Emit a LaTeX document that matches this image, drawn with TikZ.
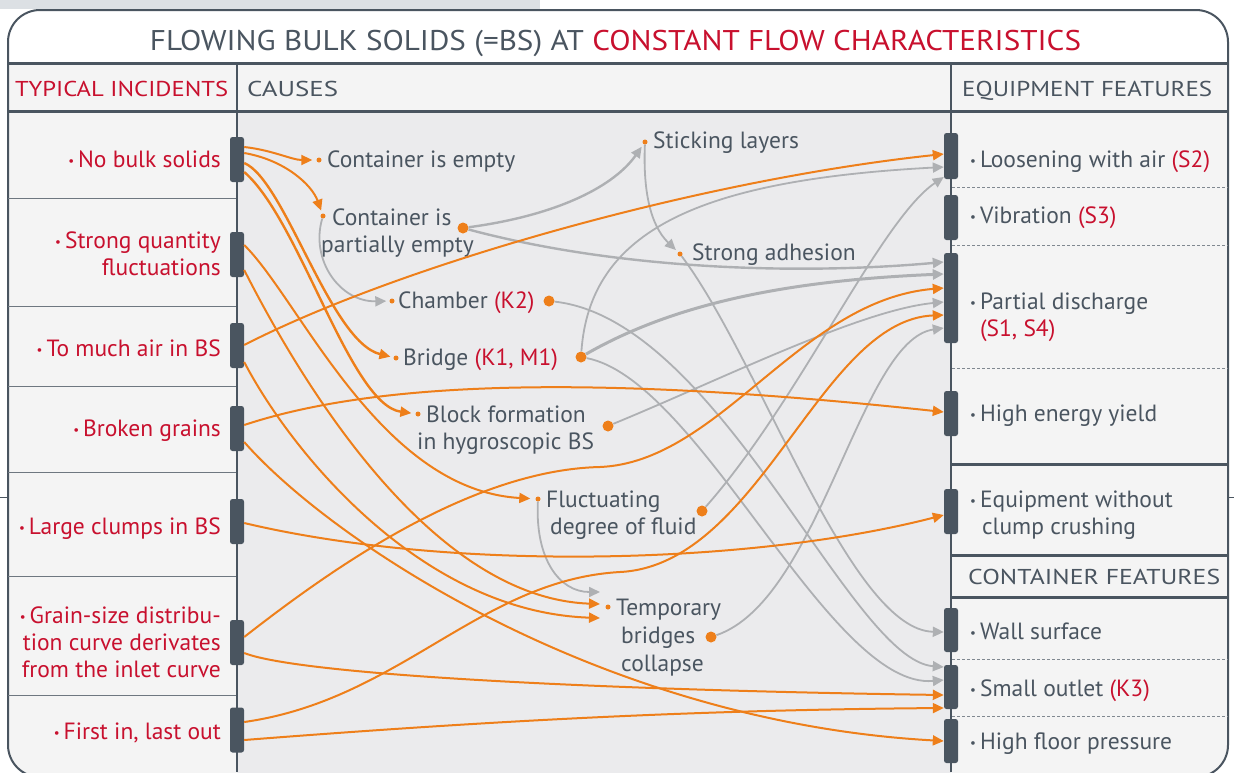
\documentclass[tikz,border=0pt]{standalone}
\usepackage{fontspec}
\setmainfont{PT Sans}
\usetikzlibrary{arrows.meta,calc}
\definecolor{dk}{HTML}{4A5560}
\definecolor{rd}{HTML}{C8102E}
\definecolor{og}{HTML}{EE7F1A}
\definecolor{gy}{HTML}{AEB0B3}
\definecolor{midbg}{HTML}{EBEBED}
\definecolor{sidebg}{HTML}{F4F4F4}
\definecolor{band}{HTML}{DCE0E4}
\newcommand\bfs{\fontsize{23.5}{27}\selectfont}
\newcommand\hfs{\fontsize{21.5}{24}\selectfont}
\newcommand\bl{\raisebox{2pt}{\fontsize{13}{13}\selectfont •}\hspace{4pt}}
\newcommand\rdt[1]{\textcolor{rd}{#1}}
\begin{document}
\begin{tikzpicture}[x=1pt,y=-1pt,
  barbox/.style={rectangle, rounded corners=2.5pt, fill=dk, minimum width=14pt, inner sep=0pt},
  sdot/.style={circle, fill=og, minimum size=5pt, inner sep=0pt},
  bdot/.style={circle, fill=og, minimum size=11pt, inner sep=0pt},
  lt/.style={anchor=east, align=right, text=rd, font=\bfs, inner sep=0pt},
  rt/.style={anchor=west, align=left, text=dk, font=\bfs, inner sep=0pt},
  ct/.style={anchor=west, align=left, text=dk, font=\bfs, inner sep=0pt},
  oneline/.style={text height=17pt, text depth=5pt, yshift=-2.25pt},
  desc/.style={yshift=-3pt},
  hd/.style={inner sep=0pt, anchor=base west},
  oarr/.style={draw=og, line width=2pt, -{Triangle[length=11pt,width=10pt]}},
  garr/.style={draw=gy, line width=1.8pt, -{Triangle[length=11pt,width=10pt]}},
  thick line/.style={draw=dk, line width=3pt},
  sepl/.style={draw=dk!80, line width=0.8pt},
  sepr/.style={draw=dk!70, line width=0.8pt, dash pattern=on 3pt off 2pt}
]
\useasboundingbox (0,0) rectangle (1234,772);
\fill[band] (0,0) rectangle (540,9);
\draw[dk, line width=1pt] (0,497) -- (8,497);
\draw[dk, line width=1pt] (1228,497) -- (1234,497);
% frame and backgrounds
\fill[white] (8,10) [rounded corners=32pt] -- (8,777) -- (1228,777) -- (1228,10) -- cycle;
\begin{scope}
\clip (8,10) [rounded corners=32pt] -- (8,777) -- (1228,777) -- (1228,10) -- cycle;
\fill[sidebg] (0,63) rectangle (1234,111);
\fill[sidebg] (0,111) rectangle (237,790);
\fill[midbg] (237,111) rectangle (951,790);
\fill[sidebg] (951,111) rectangle (1234,790);
\end{scope}
\draw[dk, line width=2pt, rounded corners=32pt] (8,10) -- (8,777) -- (1228,777) -- (1228,10) -- cycle;
% grid lines
\draw[thick line] (8,63) -- (1228,63);
\draw[thick line] (8,111) -- (1228,111);
\draw[dk, line width=2.5pt] (237,63) -- (237,772);
\draw[dk, line width=2.5pt] (951,63) -- (951,772);
\draw[thick line] (951,464) -- (1228,464);
\draw[thick line] (951,555) -- (1228,555);
\draw[thick line] (951,597) -- (1228,597);
\foreach \yy in {198,306,386,472,576,695} \draw[sepl] (8,\yy) -- (236,\yy);
\foreach \yy in {187,245,368,659,716} \draw[sepr] (952,\yy) -- (1228,\yy);
% title and headers
\node[inner sep=0pt, text=dk, anchor=base] (title) at (615.5,50) {\resizebox{931pt}{\height}{\fontsize{28.5}{30}\selectfont FLOWING BULK SOLIDS (=BS) AT \textcolor{rd}{CONSTANT FLOW CHARACTERISTICS}}};
\node[hd, text=rd] (h1) at (15,96.5) {\resizebox{213pt}{\height}{\hfs TYPICAL INCIDENTS}};
\node[hd, text=dk] (h2) at (247,96.5) {\resizebox{91pt}{\height}{\hfs CAUSES}};
\node[hd, text=dk] (h3) at (962,96.5) {\resizebox{250pt}{\height}{\hfs EQUIPMENT FEATURES}};
\node[hd, text=dk] (h4) at (968,584.5) {\resizebox{252pt}{\height}{\hfs CONTAINER FEATURES}};
% left bars
\node[barbox, minimum height=45pt] (nbs) at (237,159.5) {};
\node[barbox, minimum height=45pt] (sqf) at (237,254.5) {};
\node[barbox, minimum height=45pt] (tma) at (237,345.5) {};
\node[barbox, minimum height=45pt] (bg) at (237,428.5) {};
\node[barbox, minimum height=45pt] (lc) at (237,521.5) {};
\node[barbox, minimum height=45pt] (gs) at (237,642.5) {};
\node[barbox, minimum height=45pt] (fi) at (237,730) {};
% right bars
\node[barbox, minimum height=46pt] (lwa) at (951,156) {};
\node[barbox, minimum height=45pt] (vib) at (951,217.5) {};
\node[barbox, minimum height=90pt] (pd) at (951,298) {};
\node[barbox, minimum height=45pt] (hey) at (951,413.5) {};
\node[barbox, minimum height=45pt] (ewc) at (951,511.5) {};
\node[barbox, minimum height=44pt] (ws) at (951,630) {};
\node[barbox, minimum height=44pt] (so) at (951,687) {};
\node[barbox, minimum height=44pt] (hfp) at (951,741) {};
% left texts
\node[lt, oneline] (t-nbs) at (221,159) {\bl No bulk solids};
\node[lt] (t-sqf) at (221,254) {\bl Strong quantity\\fluctuations};
\node[lt, oneline] (t-tma) at (221,348) {\bl To much air in BS};
\node[lt, oneline] (t-bg) at (221,428) {\bl Broken grains};
\node[lt, oneline] (t-lc) at (221,526) {\bl Large clumps in BS};
\node[lt] (t-gs) at (221,642) {\bl Grain-size distribu-\\tion curve derivates\\from the inlet curve};
\node[lt, oneline] (t-fi) at (221,731) {\bl First in, last out};
% right texts
\node[rt, oneline] (t-lwa) at (970,159) {\bl Loosening with air \rdt{(S2)}};
\node[rt, oneline] (t-vib) at (970,215) {\bl Vibration \rdt{(S3)}};
\node[rt, desc] (t-pd) at (970,314) {\bl Partial discharge\\\phantom{\bl}\rdt{(S1, S4)}};
\node[rt, oneline] (t-hey) at (970,413) {\bl High energy yield};
\node[rt, desc] (t-ewc) at (970,512) {\bl Equipment without\\\phantom{\bl}\hspace*{2pt}clump crushing};
\node[rt, oneline] (t-ws) at (970,631) {\bl Wall surface};
\node[rt, oneline] (t-so) at (970,688) {\bl Small outlet \rdt{(K3)}};
\node[rt, oneline] (t-hfp) at (970,741) {\bl High floor pressure};
% causes
\node[sdot] (cie) at (319,160) {};
\node[ct, oneline] (t-cie) at (327,159) {Container is empty};
\node[sdot] (cpe) at (323,216) {};
\node[ct, desc] (t-cpe) at (321,230) {\hspace*{11pt}Container is\\partially empty};
\node[bdot] (cpeb) at (463,228) {};
\node[sdot] (sti) at (645,142) {};
\node[ct, oneline] (t-sti) at (653,140) {Sticking layers};
\node[sdot] (sad) at (680,254) {};
\node[ct, oneline] (t-sad) at (692,252) {Strong adhesion};
\node[sdot] (cha) at (392,301) {};
\node[ct, oneline] (t-cha) at (398,300) {Chamber \rdt{(K2)}};
\node[bdot] (chab) at (549,301) {};
\node[sdot] (bri) at (396,358) {};
\node[ct, oneline] (t-bri) at (403,357) {Bridge \rdt{(K1, M1)}};
\node[bdot] (brib) at (581,357) {};
\node[sdot] (bf) at (418,414) {};
\node[ct, desc] (t-bf) at (417,427.5) {\hspace*{9pt}Block formation\\in hygroscopic BS};
\node[bdot] (bfb) at (608,426) {};
\node[sdot] (flu) at (538,499) {};
\node[ct, desc] (t-flu) at (546,512) {Fluctuating\\\hspace*{4pt}degree of fluid};
\node[bdot] (flub) at (702,511) {};
\node[sdot] (tb) at (608,607) {};
\node[ct, desc] (t-tb) at (616,635) {Temporary\\[1pt]\hspace*{5pt}bridges\\[1pt]\hspace*{5pt}collapse};
\node[bdot] (tbb) at (711,637) {};
\coordinate (tb-in0) at ($(tb)+(-8,-15)$);
\coordinate (tb-in1) at ($(tb)+(-8,-3)$);
\coordinate (tb-in2) at ($(tb)+(-8,11)$);
% gray connectors
\draw[garr, shorten >=3pt] (cpe) .. controls (310,260) and (340,302) .. (cha);
\draw[garr, line width=2.4pt, shorten >=3pt] (cpeb) .. controls (560,215) and (615,185) .. (sti);
\draw[garr, line width=2.4pt] (cpeb) .. controls (620,270) and (800,275) .. (pd.west |- 0,262);
\draw[garr, shorten >=3pt] (sti) .. controls (643,190) and (650,225) .. (sad);
\draw[garr] (sad) .. controls (760,360) and (850,630) .. (ws.west |- 0,632);
\draw[garr] (chab) .. controls (720,320) and (850,660) .. (so.west |- 0,667);
\draw[garr] (brib) .. controls (700,380) and (830,690) .. (so.west |- 0,680);
\draw[garr] (brib) .. controls (590,230) and (700,180) .. (lwa.west |- 0,167);
\draw[garr, line width=3pt] (brib) .. controls (680,300) and (800,280) .. (pd.west |- 0,274);
\draw[garr] (bfb) .. controls (720,380) and (860,310) .. (pd.west |- 0,302);
\draw[garr] (flub) .. controls (800,400) and (880,220) .. (lwa.west |- 0,177);
\draw[garr] (flu) .. controls (535,560) and (560,592) .. (tb-in0);
\draw[garr] (tbb) .. controls (820,600) and (860,340) .. (pd.west |- 0,328);
% orange connectors
\draw[oarr, shorten >=4pt] (nbs.east |- 0,147) .. controls (272,150) and (292,160) .. (cie);
\draw[oarr, shorten >=3pt] (nbs.east |- 0,153) .. controls (285,160) and (312,185) .. (cpe);
\draw[oarr, line width=2.4pt, shorten >=3pt] (nbs.east |- 0,163) .. controls (285,180) and (330,342) .. (bri);
\draw[oarr, line width=2.4pt, shorten >=4pt] (nbs.east |- 0,172) .. controls (300,220) and (350,405) .. (bf);
\draw[oarr, shorten >=5pt] (sqf.east |- 0,245) .. controls (300,300) and (380,490) .. (flu);
\draw[oarr] (sqf.east |- 0,270) .. controls (300,380) and (430,598) .. (tb-in1);
\draw[oarr] (tma.east |- 0,345) .. controls (400,265) and (700,180) .. (lwa.west |- 0,154);
\draw[oarr] (tma.east |- 0,362) .. controls (290,450) and (420,612) .. (tb-in2);
\draw[oarr] (bg.east |- 0,425) .. controls (380,380) and (600,375) .. (hey.west |- 0,412);
\draw[oarr] (bg.east |- 0,442) .. controls (330,540) and (600,722) .. (hfp.west |- 0,741);
\draw[oarr] (lc.east |- 0,523) .. controls (450,572) and (750,565) .. (ewc.west |- 0,515);
\draw[oarr] (gs.east |- 0,637) .. controls (330,570) and (470,470) .. (600,467) .. controls (720,462) and (800,300) .. (pd.west |- 0,288);
\draw[oarr] (gs.east |- 0,653) .. controls (300,675) and (600,690) .. (so.west |- 0,695);
\draw[oarr] (fi.east |- 0,722) .. controls (400,700) and (480,580) .. (620,572) .. controls (760,565) and (820,320) .. (pd.west |- 0,315);
\draw[oarr] (fi.east |- 0,740) .. controls (500,720) and (700,710) .. (so.west |- 0,708);
\end{tikzpicture}
\end{document}
